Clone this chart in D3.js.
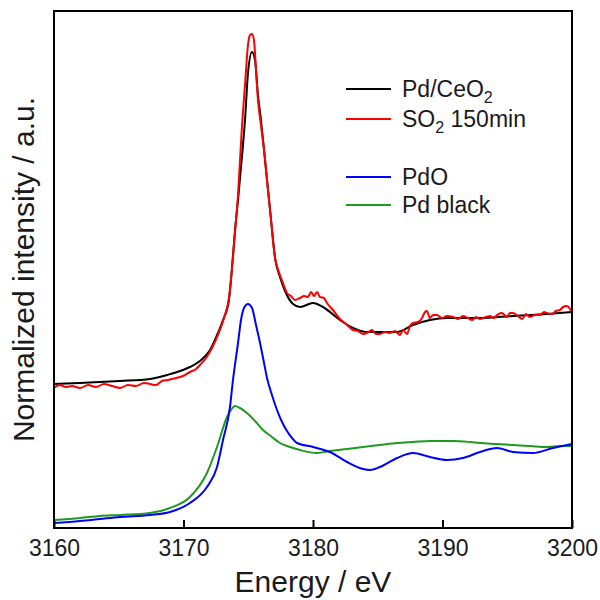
<!DOCTYPE html>
<html>
<head>
<meta charset="utf-8">
<script src="https://cdn.jsdelivr.net/npm/d3@7"></script>
<style>
  body { margin: 0; background: #fff; }
  text { font-family: "Liberation Sans", Arial, sans-serif; fill: #1a1a1a; }
</style>
</head>
<body>
<div id="chart-container"></div>
<script>
// [energy eV, normalized intensity (a.u., offset stacked)]
const pdCeO2 = [[3160.00,1.44],[3162.01,1.45],[3163.55,1.46],[3165.10,1.47],[3167.41,1.49],[3168.73,1.53],
  [3169.96,1.58],[3170.50,1.61],[3171.27,1.67],[3172.05,1.78],[3172.66,1.95],[3173.05,2.08],[3173.51,2.28],
  [3173.75,2.61],[3173.98,2.98],[3174.21,3.28],[3174.52,3.72],[3174.75,4.08],[3174.98,4.55],[3175.29,4.76],
  [3175.52,4.68],[3175.75,4.33],[3175.98,4.08],[3176.22,3.78],[3176.45,3.48],[3176.76,3.08],[3177.07,2.70],
  [3177.45,2.51],[3177.84,2.37],[3178.46,2.24],[3179.00,2.21],[3180.00,2.25],[3180.77,2.21],[3182.08,2.08],
  [3183.09,2.00],[3184.17,1.96],[3185.17,1.96],[3186.49,1.96],[3187.72,2.03],[3189.03,2.08],[3190.35,2.10],
  [3192.90,2.10],[3195.44,2.12],[3198.07,2.14],[3200.00,2.16]];

const so2150 = [[3160.00,1.40],[3160.46,1.43],[3160.93,1.41],[3161.39,1.42],[3162.01,1.40],[3162.63,1.43],
  [3163.24,1.41],[3163.86,1.44],[3164.48,1.42],[3165.10,1.40],[3165.71,1.43],[3166.33,1.42],[3166.95,1.45],
  [3167.41,1.44],[3167.88,1.43],[3168.34,1.47],[3168.80,1.48],[3169.42,1.50],[3169.96,1.52],[3170.50,1.56],
  [3170.97,1.59],[3171.27,1.63],[3171.74,1.70],[3172.20,1.80],[3172.66,1.93],[3173.13,2.10],[3173.51,2.30],
  [3173.75,2.60],[3173.98,2.96],[3174.21,3.33],[3174.52,4.03],[3174.75,4.43],[3174.98,4.83],[3175.14,4.93],
  [3175.29,4.94],[3175.44,4.88],[3175.60,4.58],[3175.75,4.28],[3175.98,4.03],[3176.22,3.78],[3176.45,3.48],
  [3176.76,3.08],[3177.07,2.70],[3177.37,2.56],[3177.68,2.45],[3177.99,2.35],[3178.30,2.32],[3178.61,2.28],
  [3179.00,2.30],[3179.31,2.32],[3179.61,2.31],[3179.85,2.36],[3180.08,2.32],[3180.31,2.36],[3180.54,2.31],
  [3180.85,2.30],[3181.08,2.25],[3181.54,2.18],[3182.08,2.09],[3182.55,2.04],[3183.09,1.98],[3183.47,1.97],
  [3183.86,1.94],[3184.17,1.95],[3184.56,1.98],[3184.86,1.94],[3185.17,1.94],[3185.56,1.96],[3185.95,1.95],
  [3186.33,1.97],[3186.72,1.93],[3186.95,1.98],[3187.26,1.94],[3187.49,2.02],[3187.72,2.05],[3188.11,2.06],
  [3188.42,2.10],[3188.65,2.16],[3188.80,2.17],[3189.03,2.10],[3189.27,2.13],[3189.58,2.13],[3189.96,2.10],
  [3190.35,2.12],[3190.81,2.11],[3191.20,2.09],[3191.58,2.12],[3191.97,2.10],[3192.28,2.08],[3192.59,2.11],
  [3192.90,2.09],[3193.36,2.11],[3193.67,2.12],[3193.98,2.10],[3194.21,2.13],[3194.59,2.15],[3194.98,2.11],
  [3195.21,2.15],[3195.44,2.15],[3195.83,2.12],[3196.14,2.09],[3196.45,2.14],[3196.76,2.11],[3197.14,2.13],
  [3197.53,2.13],[3197.84,2.16],[3198.07,2.15],[3198.46,2.14],[3198.76,2.17],[3199.07,2.18],[3199.31,2.21],
  [3199.61,2.22],[3199.85,2.19],[3200.00,2.16]];

const pdO = [[3160.00,0.05],[3162.01,0.07],[3163.55,0.09],[3165.10,0.11],[3167.41,0.13],[3168.96,0.16],
  [3170.50,0.25],[3171.81,0.41],[3172.59,0.61],[3173.05,0.88],[3173.59,1.21],[3173.82,1.48],[3174.21,1.85],
  [3174.44,2.08],[3174.67,2.20],[3174.98,2.24],[3175.29,2.20],[3175.60,2.03],[3175.91,1.85],[3176.22,1.65],
  [3176.45,1.50],[3176.83,1.33],[3177.22,1.18],[3177.61,1.06],[3177.99,0.97],[3178.38,0.90],[3178.76,0.85],
  [3180.00,0.81],[3181.31,0.76],[3182.63,0.66],[3183.86,0.59],[3184.40,0.58],[3185.17,0.61],[3186.49,0.70],
  [3187.72,0.75],[3189.03,0.71],[3190.35,0.68],[3191.58,0.70],[3192.90,0.76],[3194.21,0.80],[3195.44,0.76],
  [3196.99,0.75],[3198.53,0.80],[3200.00,0.84]];

const pdBlack = [[3160.00,0.08],[3162.01,0.10],[3163.55,0.12],[3165.10,0.13],[3167.41,0.15],[3168.96,0.20],
  [3170.50,0.31],[3171.81,0.55],[3172.59,0.81],[3173.36,1.11],[3173.67,1.18],[3173.98,1.22],[3174.36,1.20],
  [3174.90,1.15],[3175.52,1.07],[3176.14,0.98],[3176.83,0.91],[3177.45,0.85],[3178.22,0.81],[3179.00,0.78],
  [3180.31,0.75],[3181.31,0.77],[3182.63,0.79],[3183.86,0.81],[3185.17,0.83],[3186.49,0.85],[3187.72,0.86],
  [3189.03,0.87],[3190.81,0.87],[3192.12,0.86],[3192.90,0.85],[3194.21,0.84],[3195.44,0.83],[3196.76,0.82],
  [3198.07,0.81],[3199.07,0.82],[3200.00,0.82]];

const seriesNames = ["Pd/CeO2", "SO2 150min", "PdO", "Pd black"];
const seriesColors = ["#000000", "#ff0000", "#0000ff", "#1f9a1f"];
const xTicks = [3160, 3170, 3180, 3190, 3200];

// dimensions
const margin = {top:11, right:28, bottom:72, left:54};
const width = 600 - margin.left - margin.right;
const height = 600 - margin.top - margin.bottom;

const x = d3.scaleLinear().domain([3160, 3200]).range([0, width]);
const y = d3.scaleLinear().domain([0, 5.17]).range([height, 0]);

const svg = d3.select("#chart-container")
.append("svg")
.attr("width", 600)
.attr("height", 600)
.append("g")
.attr("transform", `translate(${margin.left},${margin.top})`);

// x axis, ticks pointing inward
svg.append("g")
  .attr("transform", `translate(0,${height})`)
  .style("font-size", "23px")
  .call(d3.axisBottom(x)
    .tickValues(xTicks)
    .tickFormat(d3.format("d"))
    .tickSizeInner(-8)
    .tickSizeOuter(0)
    .tickPadding(12))
  .call(g => g.select(".domain").remove())
  .call(g => g.selectAll(".tick line").attr("stroke", "#000").attr("stroke-width", 2))
  .call(g => g.selectAll(".tick text").attr("fill", "#1a1a1a").style("font-family", "Liberation Sans, Arial, sans-serif"));

// lines
const line = d3.line()
  .x(d => x(d[0]))
  .y(d => y(d[1]))
  .curve(d3.curveMonotoneX);

const allSeries = [pdCeO2, so2150, pdO, pdBlack];
// draw green and blue first, then black, then red on top
[3, 2, 0, 1].forEach(i => {
  svg.append("path")
    .datum(allSeries[i])
    .attr("fill", "none")
    .attr("stroke", seriesColors[i])
    .attr("stroke-width", 2)
    .attr("stroke-linejoin", "round")
    .attr("d", line);
});

// frame
svg.append("rect")
  .attr("x", 0).attr("y", 0)
  .attr("width", width).attr("height", height)
  .attr("fill", "none")
  .attr("stroke", "#000")
  .attr("stroke-width", 2);

// legend
const legendRows = [78, 108, 166, 194];
const legend = svg.append("g");
seriesNames.forEach((name, i) => {
  const ly = legendRows[i];
  legend.append("line")
    .attr("x1", 292).attr("x2", 337)
    .attr("y1", ly).attr("y2", ly)
    .attr("stroke", seriesColors[i])
    .attr("stroke-width", 2);
  const t = legend.append("text")
    .attr("x", 348).attr("y", ly + 8)
    .style("font-size", "23px");
  if (name === "Pd/CeO2") {
    t.append("tspan").text("Pd/CeO");
    t.append("tspan").attr("dy", 6).style("font-size", "16px").text("2");
  } else if (name === "SO2 150min") {
    t.append("tspan").text("SO");
    t.append("tspan").attr("dy", 6).style("font-size", "16px").text("2");
    t.append("tspan").attr("dy", -6).text(" 150min");
  } else {
    t.text(name);
  }
});

// axis labels
svg.append("text")
  .attr("x", width / 2)
  .attr("y", height + 64)
  .style("text-anchor", "middle")
  .style("font-size", "30px")
  .text("Energy / eV");

svg.append("text")
  .attr("transform", `translate(${34 - margin.left},${height / 2}) rotate(-90)`)
  .style("text-anchor", "middle")
  .style("font-size", "30px")
  .text("Normalized intensity / a.u.");
</script>
</body>
</html>
